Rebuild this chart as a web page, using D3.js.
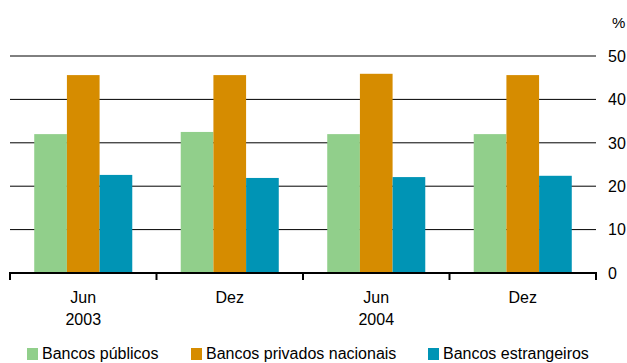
<!DOCTYPE html>
<html><head><meta charset="utf-8">
<script src="https://cdn.jsdelivr.net/npm/d3@7"></script>
<style>body{margin:0;background:#fff}svg{display:block;font-family:"Liberation Sans",Arial,sans-serif}</style>
</head><body><div id="c"></div>
<script>
const categories = ["Jun\n2003", "Dez", "Jun\n2004", "Dez"];
const seriesNames = ["Bancos públicos", "Bancos privados nacionais", "Bancos estrangeiros"];
const publicos = [32.0, 32.5, 32.0, 32.0];
const privados = [45.6, 45.6, 45.9, 45.6];
const estrangeiros = [22.6, 21.9, 22.1, 22.4];
const yTicks = [0, 10, 20, 30, 40, 50];
const colors = ["#91CF8B", "#D68C00", "#0094B5"];

const W = 627, H = 363;
const svg = d3.select("#c").append("svg").attr("width", W).attr("height", H);
const x = d3.scaleBand().domain(d3.range(categories.length)).range([10, 596]).paddingInner(0).paddingOuter(0);
const y = d3.scaleLinear().domain([0, 50]).range([273, 56]);
const inner = d3.scaleBand().domain(d3.range(3)).range([0, x.bandwidth()]).paddingOuter(0.5 * 48.5 / 32.7).paddingInner(0);

// gridlines
svg.append("g").selectAll("line").data(yTicks.filter(d => d > 0)).join("line")
  .attr("x1", 10).attr("x2", 596).attr("y1", d => y(d)).attr("y2", d => y(d))
  .attr("stroke", "#000").attr("stroke-width", 1);

const series = [publicos, privados, estrangeiros];
series.forEach((vals, si) => {
  svg.append("g").selectAll("rect").data(vals).join("rect")
    .attr("x", (d, i) => x(i) + inner(si))
    .attr("width", inner.bandwidth())
    .attr("y", d => y(d))
    .attr("height", d => y(0) - y(d))
    .attr("fill", colors[si]);
});

// baseline axis
svg.append("line").attr("x1", 9).attr("x2", 597).attr("y1", y(0)).attr("y2", y(0))
  .attr("stroke", "#000").attr("stroke-width", 2);
const bounds = d3.range(categories.length + 1).map(i => i < categories.length ? x(i) : x(i - 1) + x.bandwidth());
svg.append("g").selectAll("line").data(bounds).join("line")
  .attr("x1", d => d).attr("x2", d => d).attr("y1", y(0)).attr("y2", y(0) + 7)
  .attr("stroke", "#000").attr("stroke-width", 2);

// y tick labels
svg.append("g").selectAll("text").data(yTicks).join("text")
  .attr("x", 608).attr("y", d => y(d)).attr("dy", "0.36em")
  .attr("font-size", 16).attr("fill", "#000").text(d => d);
svg.append("text").attr("x", 612).attr("y", 28).attr("font-size", 15).text("%");

// category labels
const cl = svg.append("g").selectAll("text").data(categories).join("text")
  .attr("text-anchor", "middle").attr("font-size", 16).attr("fill", "#000");
cl.each(function(d, i) {
  const lines = d.split("\n");
  lines.forEach((l, li) => {
    d3.select(this).append("tspan").attr("x", x(i) + x.bandwidth() / 2).attr("y", 303 + li * 22).text(l);
  });
});

// legend
const legX = [27, 191, 428];
const lg = svg.append("g").selectAll("g").data(seriesNames).join("g")
  .attr("transform", (d, i) => `translate(${legX[i]},0)`);
lg.append("rect").attr("x", 0).attr("y", 348).attr("width", 11).attr("height", 12).attr("fill", (d, i) => colors[i]);
lg.append("text").attr("x", 15).attr("y", 359).attr("font-size", 16).attr("fill", "#000").text(d => d);
</script></body></html>
